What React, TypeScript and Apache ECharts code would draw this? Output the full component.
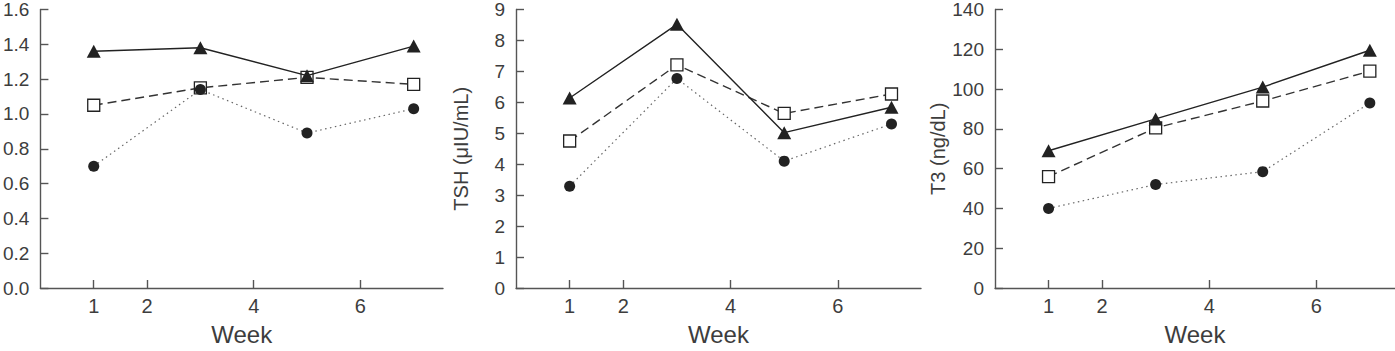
import React, { useEffect, useRef } from "react";
import * as echarts from "echarts";

const weeks = [1, 3, 5, 7];
const xTickValues = [1, 2, 4, 6];

// Panel 1 (no axis title)
const p1Triangle = [1.36, 1.38, 1.22, 1.39];
const p1Square = [1.05, 1.15, 1.21, 1.17];
const p1Circle = [0.7, 1.14, 0.89, 1.03];

// Panel 2: TSH
const p2Triangle = [6.14, 8.52, 5.02, 5.84];
const p2Square = [4.75, 7.21, 5.64, 6.27];
const p2Circle = [3.29, 6.77, 4.1, 5.3];

// Panel 3: T3
const p3Triangle = [69, 85, 101, 119.5];
const p3Square = [56, 80.5, 94, 109];
const p3Circle = [40, 52, 58.5, 93];

const yNames = ["", "TSH (μIU/mL)", "T3 (ng/dL)"];
const yMax = [1.6, 9, 140];
const yInterval = [0.2, 1, 20];
const yDecimals = [1, 0, 0];

const FONT = "'Liberation Sans Narrow', 'Liberation Sans', Arial, sans-serif";
const FONT_W = "'Liberation Sans', Arial, sans-serif";
const TEXT = "#3d3d3d";
const AXIS = "#555";
const LINE = "#222";

const grids = [
  { left: 37, top: 9, width: 406, height: 283 },
  { left: 516, top: 9, width: 405, height: 283 },
  { left: 995, top: 9, width: 400, height: 283 },
];
const xMax = [7.55, 7.55, 7.47];

export default function App() {
  const ref = useRef<HTMLDivElement>(null);
  useEffect(() => {
    document.body.style.margin = "0";
    const chart = echarts.init(ref.current!, null, { renderer: "svg" });
    const panels = [
      [p1Triangle, p1Square, p1Circle],
      [p2Triangle, p2Square, p2Circle],
      [p3Triangle, p3Square, p3Circle],
    ];
    const series: any[] = [];
    panels.forEach((p, i) => {
      const [tri, sq, circ] = p;
      series.push({
        type: "line",
        xAxisIndex: i,
        yAxisIndex: i,
        data: weeks.map((w, k) => [w, sq[k]]),
        symbol: "rect",
        symbolSize: 12,
        lineStyle: { color: "#333", width: 1.4, type: [9, 5] },
        itemStyle: { color: "#fff", borderColor: LINE, borderWidth: 1.3 },
        z: 2,
      });
      series.push({
        type: "line",
        xAxisIndex: i,
        yAxisIndex: i,
        data: weeks.map((w, k) => [w, circ[k]]),
        symbol: "circle",
        symbolSize: 11,
        lineStyle: { color: "#666", width: 1.2, type: [1.5, 3.5] },
        itemStyle: { color: LINE, borderWidth: 0 },
        z: 3,
      });
      series.push({
        type: "line",
        xAxisIndex: i,
        yAxisIndex: i,
        data: weeks.map((w, k) => [w, tri[k]]),
        symbol: "triangle",
        symbolSize: [14, 13],
        lineStyle: { color: LINE, width: 1.4, type: "solid" },
        itemStyle: { color: LINE, borderWidth: 0 },
        z: 4,
      });
    });

    chart.setOption({
      animation: false,
      backgroundColor: "#fff",
      grid: grids,
      xAxis: grids.map((g, i) => ({
        type: "value",
        gridIndex: i,
        min: 0,
        max: xMax[i],
        name: "Week",
        nameLocation: "middle",
        nameGap: 34,
        nameTextStyle: { fontFamily: FONT_W, fontSize: 24, color: TEXT },
        axisLine: { show: true, onZero: false, lineStyle: { color: AXIS, width: 1.4 } },
        axisTick: {
          show: true,
          inside: true,
          length: 8,
          customValues: xTickValues,
          lineStyle: { color: AXIS, width: 1.4 },
        },
        axisLabel: {
          customValues: xTickValues,
          fontFamily: FONT,
          fontSize: 20,
          color: TEXT,
          margin: 8,
        },
        splitLine: { show: false },
      })),
      yAxis: grids.map((g, i) => ({
        type: "value",
        gridIndex: i,
        min: 0,
        max: yMax[i],
        interval: yInterval[i],
        name: yNames[i],
        nameLocation: "middle",
        nameGap: 45,
        nameTextStyle: { fontFamily: FONT_W, fontSize: 20, color: TEXT },
        axisLine: { show: true, lineStyle: { color: AXIS, width: 1.4 } },
        axisTick: { show: true, inside: true, length: 8, lineStyle: { color: AXIS, width: 1.4 } },
        axisLabel: {
          fontFamily: FONT,
          fontSize: 19,
          color: TEXT,
          margin: 11,
          formatter: (v: number) => v.toFixed(yDecimals[i]),
        },
        splitLine: { show: false },
      })),
      series,
    });
    return () => chart.dispose();
  }, []);
  return <div ref={ref} style={{ width: 1395, height: 351 }} />;
}
